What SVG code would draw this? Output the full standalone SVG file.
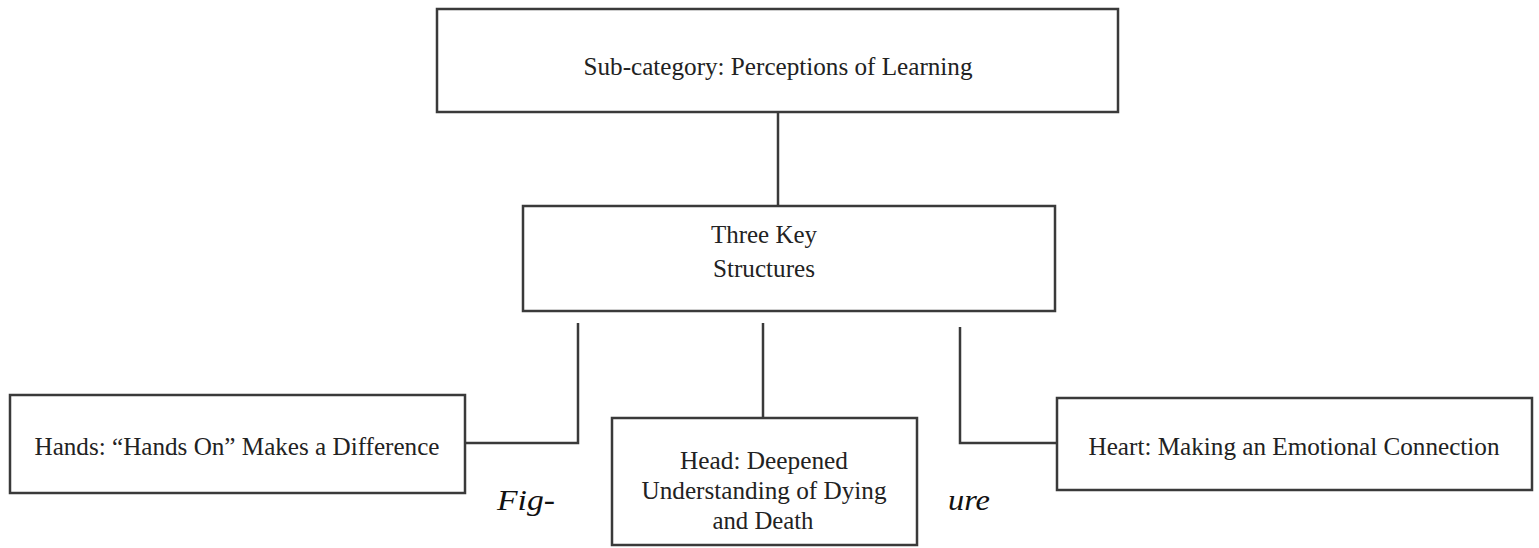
<svg xmlns="http://www.w3.org/2000/svg" width="1539" height="548" viewBox="0 0 1539 548">
<style>
.box{fill:#fff;stroke:#3a3a3a;stroke-width:2.5}
.t{font-family:"Liberation Serif","Times New Roman",Times,serif;font-size:26px;fill:#222;text-anchor:middle}
.c{fill:none;stroke:#3a3a3a;stroke-width:2.5}
.i{font-family:"Liberation Serif","Times New Roman",Times,serif;font-size:29px;font-style:italic;fill:#111}
</style>
<rect width="1539" height="548" fill="#fff"/>
<g id="connectors">
<path class="c" d="M778 112V206"/>
<path class="c" d="M578 323V443H465"/>
<path class="c" d="M763 323V418"/>
<path class="c" d="M960 327V443H1057"/>
</g>
<g id="n-sub">
<rect class="box" x="437" y="9" width="681" height="103"/>
<text class="t" x="778" y="75" textLength="389" lengthAdjust="spacingAndGlyphs">Sub-category: Perceptions of Learning</text>
</g>
<g id="n-three">
<rect class="box" x="523" y="206" width="532" height="105"/>
<text class="t" x="764" y="243" textLength="106" lengthAdjust="spacingAndGlyphs">Three Key</text>
<text class="t" x="764" y="277" textLength="102" lengthAdjust="spacingAndGlyphs">Structures</text>
</g>
<g id="n-hands">
<rect class="box" x="10" y="395" width="455" height="98"/>
<text class="t" x="237" y="455" textLength="405" lengthAdjust="spacingAndGlyphs">Hands: “Hands On” Makes a Difference</text>
</g>
<g id="n-head">
<rect class="box" x="612" y="418" width="305" height="127"/>
<text class="t" x="764" y="469" textLength="168" lengthAdjust="spacingAndGlyphs">Head: Deepened</text>
<text class="t" x="764" y="499" textLength="245" lengthAdjust="spacingAndGlyphs">Understanding of Dying</text>
<text class="t" x="763" y="529" textLength="101" lengthAdjust="spacingAndGlyphs">and Death</text>
</g>
<g id="n-heart">
<rect class="box" x="1057" y="398" width="475" height="92"/>
<text class="t" x="1294" y="455" textLength="411" lengthAdjust="spacingAndGlyphs">Heart: Making an Emotional Connection</text>
</g>
<text class="i" x="497" y="510" textLength="58" lengthAdjust="spacingAndGlyphs">Fig-</text>
<text class="i" x="948" y="510" textLength="42" lengthAdjust="spacingAndGlyphs">ure</text>
</svg>
